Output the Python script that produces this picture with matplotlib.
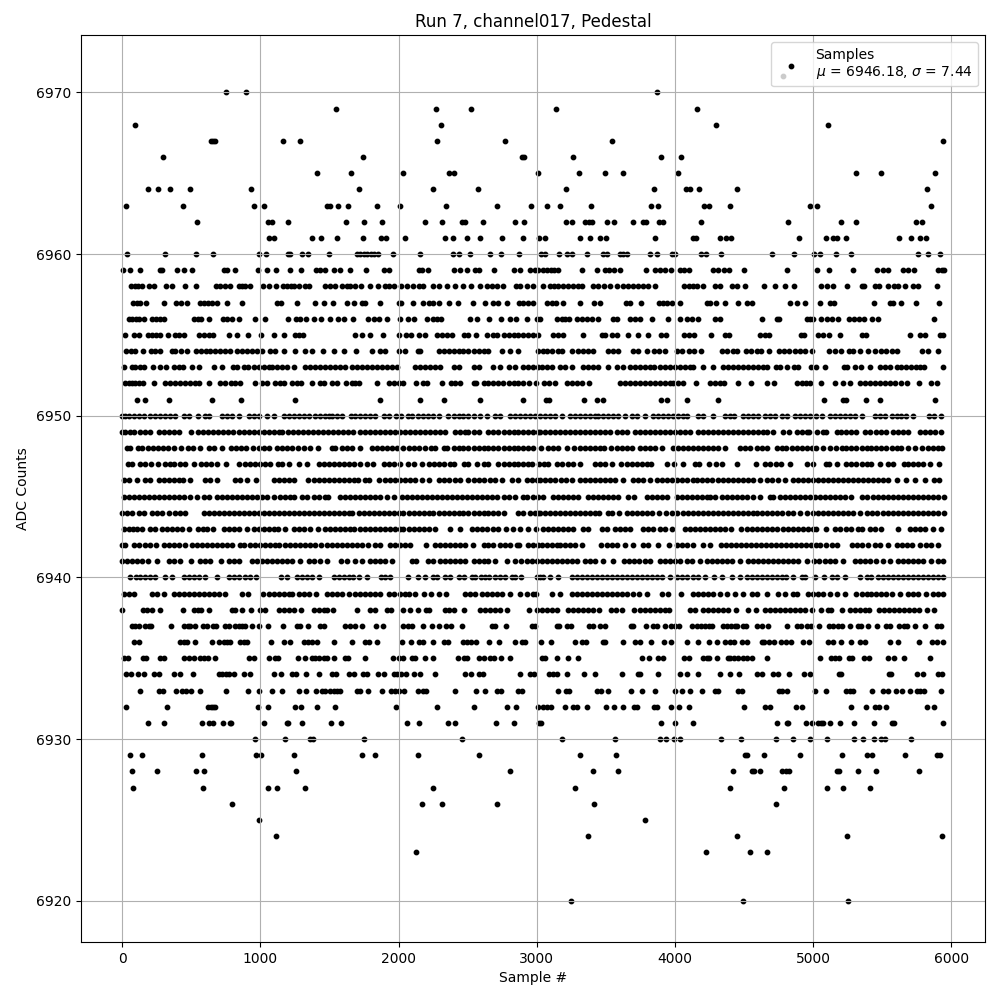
import matplotlib
matplotlib.use("Agg")
import matplotlib.pyplot as plt

s6971 = [4780]
s6970 = [750, 894, 3872]
s6969 = [1545, 2268, 2528, 3142, 4161]
s6968 = [92, 2304, 4299, 5108]
s6967 = [641, 655, 670, 1162, 1285, 2282, 2774, 3547, 5940]
s6966 = [294, 1740, 2897, 2911, 3265, 3901, 4046]
s6965 = [1407, 1653, 2036, 2362, 2405, 3012, 3309, 3491, 3622, 4024, 5311, 5492, 5882]
s6964 = [186, 258, 345, 489, 930, 1711, 2253, 2572, 3214, 3851, 4082, 4111, 4176, 4451, 5824]
s6963 = [27, 439, 952, 1024, 1482, 1506, 1559, 1632, 1841, 2008, 2340, 2709, 2962, 3077, 3171, 3395, 3829, 3880, 4210, 4248, 4400, 4978, 5029, 5853]
s6962 = [540, 1053, 1082, 1198, 1617, 1747, 1877, 2195, 2311, 2458, 2482, 2608, 2846, 2911, 3214, 3258, 3349, 3381, 3402, 3511, 3561, 3699, 3771, 3793, 3887, 3916, 4190, 4819, 5202, 5311, 5745, 5788]
s6961 = [1060, 1097, 1371, 1436, 1552, 1740, 1870, 1906, 2044, 2333, 2391, 2499, 2586, 2752, 2904, 3019, 3063, 3316, 3388, 3460, 3504, 3858, 4133, 4154, 4328, 4371, 4407, 4899, 5094, 5145, 5173, 5239, 5622, 5708, 5773, 5817]
s6960 = [34, 308, 535, 655, 988, 1039, 1198, 1217, 1299, 1342, 1494, 1699, 1723, 1747, 1769, 1798, 1820, 1849, 1957, 2159, 2391, 2441, 2514, 2665, 2738, 2875, 3031, 3060, 3164, 3222, 3253, 3366, 3482, 3511, 3605, 3627, 3651, 3822, 3872, 3981, 4000, 4190, 4226, 4335, 4704, 4863, 5007, 5050, 5166, 5275, 5759, 5831, 5918]
s6959 = [5, 55, 128, 277, 289, 398, 446, 504, 735, 759, 819, 981, 1046, 1111, 1212, 1292, 1400, 1434, 1470, 1530, 1574, 1646, 1762, 1892, 1928, 2145, 2169, 2210, 2398, 2448, 2492, 2555, 2579, 2694, 2839, 2880, 2952, 2988, 3012, 3043, 3072, 3101, 3125, 3156, 3330, 3438, 3494, 3525, 3559, 3600, 3793, 3858, 3892, 3928, 3969, 4036, 4065, 4104, 4277, 4308, 4357, 4390, 4501, 4812, 5029, 5116, 5289, 5463, 5506, 5542, 5650, 5687, 5730, 5906, 5930, 5945]
s6958 = [63, 96, 113, 142, 193, 229, 321, 361, 453, 533, 677, 711, 747, 778, 843, 868, 892, 923, 1017, 1060, 1113, 1164, 1193, 1222, 1246, 1277, 1321, 1354, 1470, 1506, 1542, 1591, 1627, 1651, 1687, 1728, 1791, 1848, 1899, 1928, 1964, 2015, 2061, 2104, 2145, 2174, 2253, 2290, 2350, 2412, 2463, 2528, 2586, 2639, 2675, 2711, 2759, 2851, 2880, 2926, 2976, 3048, 3096, 3125, 3157, 3193, 3229, 3265, 3301, 3325, 3410, 3446, 3487, 3530, 3578, 3627, 3663, 3699, 3735, 3771, 3807, 3855, 4068, 4104, 4133, 4161, 4205, 4289, 4325, 4410, 4451, 4506, 4644, 4723, 4798, 4863, 5060, 5097, 5140, 5246, 5350, 5369, 5448, 5477, 5542, 5583, 5615, 5665, 5723, 5760, 5897]
s6957 = [77, 108, 128, 176, 301, 388, 427, 470, 562, 590, 619, 651, 687, 757, 865, 1121, 1152, 1263, 1398, 1458, 1523, 1624, 1675, 1735, 1754, 1863, 2000, 2017, 2102, 2174, 2217, 2246, 2290, 2362, 2429, 2538, 2629, 2687, 2718, 2783, 2875, 2904, 2940, 2971, 3077, 3108, 3140, 3188, 3316, 3417, 3458, 3643, 3675, 3757, 3887, 3916, 3945, 3976, 4036, 4229, 4253, 4299, 4364, 4458, 4523, 4559, 4832, 4885, 4940, 5051, 5120, 5150, 5441, 5555, 5579, 5636, 5745, 5911]
s6956 = [48, 72, 104, 120, 157, 217, 248, 277, 306, 518, 547, 571, 631, 730, 759, 795, 843, 959, 1031, 1198, 1256, 1289, 1328, 1386, 1436, 1501, 1559, 1603, 1668, 1776, 1820, 1856, 1916, 2008, 2065, 2109, 2205, 2249, 2278, 2309, 2514, 2567, 2658, 2745, 2803, 2851, 2933, 3000, 3024, 3145, 3181, 3205, 3236, 3289, 3325, 3361, 3398, 3446, 3554, 3583, 3675, 3711, 3747, 3836, 3952, 4039, 4085, 4121, 4164, 4289, 4325, 4629, 4735, 4754, 4952, 4976, 5000, 5060, 5097, 5133, 5181, 5261, 5294, 5333, 5369, 5427, 5470, 5875]
s6955 = [19, 84, 120, 186, 217, 246, 277, 330, 386, 410, 451, 554, 590, 627, 658, 771, 831, 909, 1007, 1097, 1171, 1253, 1277, 1306, 1687, 1735, 1793, 1885, 2003, 2056, 2090, 2145, 2188, 2282, 2314, 2350, 2386, 2475, 2506, 2559, 2639, 2687, 2716, 2760, 2796, 2832, 2861, 2899, 2940, 2976, 3012, 3120, 3157, 3188, 3337, 3470, 3494, 3542, 3578, 3663, 3730, 3802, 3896, 3935, 4068, 4104, 4137, 4263, 4362, 4393, 4615, 4651, 4680, 4911, 4933, 5036, 5073, 5116, 5193, 5350, 5381, 5702, 5776, 5808, 5916, 5940]
s6954 = [31, 65, 96, 149, 212, 241, 277, 361, 386, 427, 470, 532, 568, 604, 639, 675, 711, 747, 784, 831, 867, 904, 940, 976, 1012, 1072, 1108, 1169, 1253, 1321, 1374, 1451, 1535, 1603, 1689, 1805, 1863, 1904, 2000, 2049, 2138, 2157, 2290, 2326, 2362, 2398, 2434, 2470, 2506, 2543, 2579, 2615, 2651, 2747, 2803, 2868, 3012, 3048, 3072, 3108, 3157, 3186, 3258, 3301, 3337, 3373, 3410, 3518, 3554, 3590, 3694, 3735, 3800, 3848, 3887, 3930, 4012, 4048, 4104, 4140, 4186, 4342, 4378, 4422, 4451, 4511, 4547, 4591, 4620, 4680, 4754, 4788, 4827, 4868, 4904, 4940, 4988, 5114, 5157, 5205, 5258, 5285, 5340, 5398, 5448, 5494, 5530, 5567, 5603, 5791, 5832, 5904]
s6953 = [12, 72, 96, 128, 157, 224, 277, 321, 373, 410, 441, 506, 554, 663, 725, 800, 831, 880, 911, 957, 993, 1029, 1060, 1085, 1121, 1157, 1193, 1241, 1326, 1362, 1398, 1434, 1470, 1506, 1542, 1579, 1615, 1663, 1699, 1735, 1771, 1807, 1844, 1880, 1916, 1952, 1988, 2121, 2157, 2193, 2229, 2265, 2297, 2398, 2434, 2543, 2579, 2687, 2731, 2796, 2844, 2904, 2940, 2976, 3012, 3036, 3072, 3113, 3169, 3205, 3253, 3337, 3373, 3410, 3446, 3518, 3578, 3622, 3675, 3711, 3747, 3783, 3819, 3851, 3892, 3928, 3964, 4000, 4036, 4072, 4108, 4133, 4205, 4277, 4350, 4386, 4422, 4458, 4494, 4530, 4566, 4603, 4639, 4663, 4730, 4759, 4812, 4860, 4887, 4981, 5020, 5087, 5222, 5246, 5301, 5343, 5410, 5482, 5518, 5554, 5603, 5639, 5675, 5711, 5747, 5771, 5805, 5940]
s6952 = [24, 48, 72, 96, 120, 152, 229, 313, 349, 386, 422, 458, 494, 530, 554, 627, 706, 747, 788, 819, 855, 964, 1012, 1048, 1109, 1145, 1174, 1229, 1265, 1294, 1371, 1434, 1458, 1518, 1554, 1617, 1663, 1687, 1711, 1841, 1928, 1964, 2000, 2036, 2126, 2176, 2205, 2318, 2379, 2410, 2446, 2547, 2562, 2615, 2651, 2687, 2723, 2755, 2796, 2832, 2868, 2904, 2945, 2995, 3053, 3092, 3133, 3217, 3253, 3289, 3325, 3376, 3603, 3639, 3675, 3711, 3747, 3783, 3819, 3855, 3892, 3928, 3964, 3988, 4024, 4060, 4152, 4253, 4289, 4325, 4354, 4455, 4552, 4667, 4718, 4885, 4916, 4947, 4976, 5060, 5159, 5217, 5265, 5338, 5374, 5410, 5446, 5482, 5518, 5554, 5590, 5639, 5682, 5767, 5856, 5899]
s6951 = [111, 164, 337, 648, 858, 1248, 1863, 2159, 2326, 2593, 2899, 3067, 3087, 3345, 3439, 3482, 3901, 3942, 4089, 4313, 5080, 5217, 5236, 5383, 5485, 5882]
s6950 = [2, 24, 48, 89, 120, 157, 200, 236, 272, 308, 345, 386, 450, 482, 547, 603, 627, 723, 759, 795, 843, 916, 952, 988, 1048, 1097, 1169, 1205, 1241, 1277, 1313, 1350, 1398, 1434, 1470, 1494, 1518, 1554, 1591, 1656, 1687, 1723, 1759, 1795, 1832, 1892, 1928, 1983, 2020, 2065, 2101, 2138, 2174, 2210, 2246, 2290, 2355, 2398, 2434, 2470, 2506, 2543, 2591, 2641, 2699, 2735, 2808, 2844, 2880, 2916, 2952, 2988, 3024, 3060, 3096, 3133, 3181, 3241, 3277, 3313, 3349, 3386, 3422, 3446, 3482, 3518, 3554, 3590, 3639, 3687, 3723, 3783, 3838, 3880, 3916, 3952, 3988, 4024, 4060, 4085, 4169, 4205, 4277, 4362, 4398, 4429, 4494, 4530, 4566, 4603, 4651, 4687, 4723, 4771, 4812, 4868, 4904, 4940, 4976, 5024, 5067, 5120, 5157, 5193, 5229, 5265, 5301, 5350, 5446, 5482, 5518, 5567, 5603, 5639, 5675, 5723, 5837, 5873, 5928]
s6949 = [0, 24, 60, 89, 132, 169, 205, 265, 301, 337, 373, 410, 496, 547, 583, 619, 655, 692, 728, 764, 800, 848, 884, 920, 957, 993, 1029, 1065, 1101, 1133, 1157, 1200, 1236, 1272, 1308, 1345, 1381, 1417, 1453, 1489, 1525, 1562, 1598, 1634, 1670, 1723, 1759, 1795, 1832, 1868, 1904, 1940, 1976, 2012, 2049, 2085, 2121, 2157, 2193, 2229, 2265, 2302, 2338, 2410, 2446, 2482, 2506, 2543, 2579, 2651, 2687, 2723, 2760, 2796, 2832, 2868, 2904, 2940, 2976, 3012, 3024, 3060, 3096, 3133, 3169, 3205, 3241, 3277, 3313, 3349, 3386, 3422, 3458, 3494, 3530, 3583, 3619, 3655, 3711, 3747, 3783, 3819, 3855, 3892, 3928, 3964, 4000, 4036, 4072, 4108, 4169, 4205, 4241, 4277, 4313, 4350, 4386, 4422, 4458, 4494, 4530, 4566, 4603, 4639, 4663, 4711, 4783, 4827, 4880, 4916, 4952, 4971, 5029, 5068, 5092, 5169, 5205, 5241, 5277, 5313, 5374, 5410, 5458, 5494, 5530, 5579, 5615, 5651, 5687, 5771, 5808, 5844, 5880, 5928]
s6948 = [36, 60, 113, 145, 186, 222, 258, 294, 330, 373, 424, 475, 511, 562, 629, 663, 723, 788, 824, 860, 896, 945, 993, 1029, 1060, 1121, 1157, 1193, 1229, 1270, 1313, 1362, 1415, 1518, 1542, 1591, 1627, 1663, 1723, 1807, 1844, 1880, 1916, 1952, 1988, 2036, 2073, 2109, 2145, 2193, 2234, 2265, 2326, 2350, 2398, 2434, 2470, 2506, 2543, 2579, 2615, 2651, 2687, 2723, 2760, 2796, 2832, 2868, 2904, 2940, 2976, 3029, 3084, 3120, 3157, 3217, 3272, 3313, 3349, 3386, 3422, 3458, 3487, 3537, 3578, 3615, 3651, 3687, 3747, 3783, 3819, 3855, 3904, 3988, 4024, 4060, 4096, 4133, 4169, 4205, 4241, 4277, 4313, 4362, 4470, 4506, 4542, 4591, 4627, 4663, 4735, 4771, 4807, 4844, 4880, 4916, 4952, 4988, 5024, 5073, 5120, 5164, 5210, 5241, 5277, 5313, 5350, 5386, 5422, 5458, 5494, 5530, 5567, 5603, 5639, 5687, 5735, 5788, 5832, 5868, 5904, 5935]
s6947 = [41, 75, 133, 169, 210, 258, 313, 349, 373, 422, 458, 518, 571, 607, 643, 687, 754, 846, 892, 928, 964, 1000, 1036, 1072, 1128, 1157, 1205, 1277, 1338, 1422, 1458, 1494, 1530, 1567, 1603, 1639, 1675, 1723, 1771, 1812, 1897, 1933, 1969, 2012, 2068, 2114, 2167, 2222, 2258, 2294, 2331, 2374, 2398, 2475, 2506, 2567, 2615, 2651, 2723, 2760, 2796, 2832, 2868, 2904, 2940, 2964, 3019, 3053, 3084, 3145, 3181, 3229, 3265, 3313, 3422, 3458, 3494, 3542, 3607, 3651, 3687, 3723, 3759, 3795, 3824, 3945, 3995, 4060, 4145, 4176, 4244, 4297, 4338, 4451, 4586, 4651, 4687, 4730, 4764, 4834, 4952, 5000, 5092, 5116, 5171, 5241, 5277, 5313, 5350, 5386, 5422, 5482, 5542, 5579, 5655, 5687, 5723, 5759, 5795, 5843, 5911]
s6946 = [12, 48, 108, 169, 205, 265, 301, 337, 373, 410, 441, 489, 603, 639, 687, 819, 855, 904, 971, 1097, 1133, 1169, 1205, 1241, 1345, 1386, 1422, 1458, 1494, 1530, 1567, 1603, 1639, 1675, 1704, 1759, 1783, 1856, 1904, 1940, 1976, 2012, 2049, 2085, 2121, 2169, 2217, 2290, 2326, 2362, 2410, 2446, 2506, 2543, 2579, 2615, 2663, 2699, 2747, 2820, 2868, 2928, 2964, 3000, 3024, 3060, 3096, 3133, 3174, 3212, 3253, 3313, 3349, 3386, 3422, 3458, 3494, 3530, 3566, 3627, 3699, 3735, 3771, 3819, 3867, 3904, 3940, 3976, 4012, 4048, 4085, 4133, 4157, 4193, 4229, 4265, 4313, 4350, 4386, 4422, 4458, 4494, 4530, 4566, 4615, 4668, 4699, 4747, 4795, 4855, 4892, 4928, 4964, 5000, 5036, 5073, 5109, 5145, 5181, 5217, 5253, 5289, 5325, 5362, 5398, 5434, 5470, 5506, 5542, 5603, 5675, 5735, 5808, 5873, 5911]
s6945 = [12, 48, 84, 120, 157, 193, 229, 265, 301, 337, 373, 410, 446, 494, 542, 590, 627, 687, 723, 759, 795, 831, 867, 904, 940, 976, 1012, 1048, 1097, 1145, 1181, 1217, 1246, 1301, 1338, 1386, 1422, 1470, 1487, 1579, 1615, 1651, 1687, 1723, 1759, 1795, 1832, 1868, 1916, 1964, 2024, 2061, 2097, 2133, 2169, 2205, 2241, 2278, 2314, 2350, 2386, 2422, 2458, 2494, 2530, 2567, 2603, 2639, 2675, 2716, 2760, 2796, 2844, 2904, 2933, 2976, 3012, 3048, 3120, 3157, 3193, 3229, 3265, 3301, 3373, 3410, 3446, 3482, 3518, 3554, 3590, 3663, 3704, 3795, 3831, 3867, 3904, 3940, 4012, 4048, 4085, 4121, 4157, 4193, 4229, 4253, 4289, 4338, 4374, 4410, 4446, 4482, 4518, 4566, 4615, 4687, 4711, 4759, 4795, 4832, 4868, 4904, 4940, 4976, 5012, 5048, 5085, 5121, 5157, 5193, 5229, 5277, 5350, 5386, 5434, 5470, 5506, 5542, 5579, 5615, 5651, 5687, 5723, 5759, 5795, 5832, 5868, 5904, 5946]
s6944 = [0, 36, 72, 120, 157, 217, 253, 289, 337, 386, 422, 458, 590, 627, 663, 699, 735, 771, 807, 843, 879, 916, 952, 988, 1024, 1060, 1096, 1133, 1169, 1205, 1241, 1277, 1313, 1350, 1386, 1422, 1458, 1494, 1530, 1567, 1603, 1639, 1663, 1711, 1747, 1783, 1820, 1856, 1892, 1928, 1966, 2000, 2036, 2073, 2109, 2145, 2181, 2217, 2253, 2290, 2326, 2362, 2398, 2434, 2470, 2506, 2543, 2579, 2615, 2651, 2687, 2723, 2760, 2868, 2904, 2952, 2988, 3012, 3024, 3060, 3096, 3133, 3169, 3205, 3241, 3277, 3313, 3349, 3386, 3422, 3453, 3518, 3542, 3598, 3651, 3687, 3723, 3759, 3795, 3831, 3887, 3935, 3976, 4012, 4060, 4096, 4133, 4169, 4205, 4241, 4277, 4313, 4350, 4386, 4422, 4458, 4494, 4530, 4566, 4591, 4627, 4663, 4699, 4735, 4771, 4820, 4856, 4904, 4954, 5000, 5036, 5073, 5109, 5145, 5181, 5217, 5253, 5289, 5338, 5391, 5427, 5463, 5506, 5542, 5579, 5615, 5651, 5687, 5723, 5759, 5795, 5832, 5868, 5904, 5946]
s6943 = [17, 48, 80, 108, 145, 200, 241, 289, 325, 361, 398, 434, 482, 547, 583, 615, 658, 735, 771, 807, 843, 901, 952, 988, 1024, 1060, 1097, 1125, 1178, 1241, 1277, 1313, 1362, 1415, 1470, 1506, 1542, 1579, 1615, 1651, 1680, 1723, 1759, 1795, 1832, 1868, 1904, 1940, 1976, 2012, 2036, 2073, 2109, 2145, 2181, 2217, 2265, 2374, 2446, 2530, 2567, 2603, 2639, 2687, 2723, 2775, 2825, 2882, 2940, 2995, 3048, 3084, 3120, 3157, 3193, 3229, 3265, 3337, 3373, 3470, 3511, 3566, 3603, 3639, 3675, 3771, 3807, 3843, 3892, 3928, 3976, 4072, 4108, 4145, 4181, 4217, 4253, 4289, 4325, 4362, 4405, 4475, 4518, 4554, 4591, 4627, 4663, 4699, 4735, 4783, 4820, 4856, 4892, 4928, 4964, 5000, 5024, 5096, 5157, 5193, 5241, 5277, 5325, 5350, 5410, 5446, 5494, 5615, 5699, 5735, 5771, 5808, 5868, 5926]
s6942 = [0, 24, 89, 120, 169, 205, 248, 301, 337, 373, 410, 458, 506, 542, 578, 614, 651, 687, 723, 759, 795, 851, 884, 928, 964, 1000, 1036, 1072, 1108, 1133, 1181, 1217, 1253, 1289, 1326, 1362, 1398, 1439, 1482, 1518, 1554, 1591, 1627, 1663, 1699, 1735, 1776, 1832, 1863, 1935, 1971, 2008, 2049, 2085, 2198, 2265, 2302, 2338, 2374, 2410, 2446, 2482, 2538, 2615, 2651, 2687, 2735, 2772, 2803, 2856, 2875, 2940, 2976, 3012, 3036, 3072, 3108, 3145, 3169, 3205, 3241, 3277, 3325, 3463, 3506, 3542, 3578, 3639, 3699, 3771, 3807, 3880, 3959, 4012, 4048, 4085, 4133, 4205, 4253, 4330, 4366, 4403, 4439, 4475, 4511, 4547, 4583, 4620, 4656, 4692, 4728, 4764, 4801, 4837, 4873, 4909, 4945, 4981, 5017, 5053, 5090, 5133, 5169, 5282, 5318, 5354, 5398, 5448, 5487, 5542, 5603, 5646, 5682, 5718, 5776, 5820, 5856, 5904]
s6941 = [0, 36, 72, 108, 145, 186, 251, 337, 373, 422, 499, 562, 603, 639, 718, 776, 812, 848, 940, 976, 1012, 1048, 1085, 1121, 1157, 1193, 1229, 1289, 1350, 1386, 1434, 1482, 1586, 1627, 1682, 1738, 1795, 1832, 1868, 1904, 1952, 2097, 2128, 2210, 2253, 2302, 2338, 2374, 2410, 2446, 2482, 2543, 2579, 2615, 2651, 2699, 2783, 2844, 2885, 2928, 2964, 3000, 3036, 3072, 3108, 3145, 3181, 3217, 3253, 3289, 3349, 3386, 3422, 3482, 3549, 3631, 3668, 3704, 3740, 3783, 3819, 3892, 3928, 3964, 4000, 4036, 4085, 4121, 4181, 4229, 4265, 4301, 4338, 4374, 4410, 4470, 4530, 4566, 4603, 4639, 4675, 4711, 4747, 4783, 4820, 4856, 4892, 4952, 5007, 5044, 5085, 5121, 5157, 5217, 5301, 5338, 5374, 5410, 5458, 5506, 5554, 5615, 5651, 5687, 5723, 5759, 5795, 5856, 5904, 5940]
s6940 = [60, 104, 133, 169, 205, 241, 313, 361, 446, 482, 518, 554, 603, 684, 771, 807, 843, 892, 928, 969, 1147, 1193, 1265, 1301, 1338, 1374, 1422, 1535, 1571, 1607, 1644, 1668, 1711, 1769, 1873, 1904, 1940, 2068, 2138, 2193, 2246, 2278, 2333, 2374, 2441, 2475, 2530, 2555, 2596, 2627, 2658, 2699, 2735, 2772, 2820, 2844, 2885, 3000, 3024, 3048, 3099, 3157, 3253, 3289, 3325, 3361, 3398, 3434, 3470, 3506, 3542, 3578, 3615, 3651, 3687, 3723, 3759, 3795, 3831, 3867, 3904, 3964, 4012, 4048, 4085, 4133, 4169, 4217, 4285, 4342, 4410, 4470, 4518, 4554, 4591, 4627, 4663, 4699, 4735, 4771, 4807, 4856, 4916, 4940, 5015, 5080, 5133, 5169, 5229, 5338, 5386, 5422, 5470, 5506, 5542, 5579, 5615, 5651, 5687, 5723, 5759, 5795, 5832, 5868, 5904, 5940]
s6939 = [17, 48, 84, 217, 253, 301, 373, 410, 446, 482, 518, 554, 590, 627, 663, 699, 747, 867, 908, 1017, 1065, 1097, 1133, 1169, 1205, 1229, 1277, 1313, 1350, 1405, 1482, 1518, 1554, 1591, 1639, 1687, 1723, 1759, 1795, 1832, 1868, 1928, 1964, 2012, 2049, 2073, 2116, 2181, 2234, 2290, 2347, 2482, 2518, 2555, 2603, 2639, 2675, 2711, 2747, 2805, 2880, 2928, 2976, 2995, 3113, 3169, 3253, 3289, 3325, 3361, 3398, 3434, 3470, 3506, 3542, 3578, 3615, 3651, 3694, 3742, 3795, 3904, 3952, 4043, 4133, 4169, 4205, 4241, 4277, 4325, 4378, 4434, 4494, 4554, 4591, 4663, 4747, 4795, 4856, 4885, 4964, 5000, 5036, 5073, 5121, 5169, 5232, 5313, 5350, 5386, 5422, 5458, 5494, 5530, 5567, 5627, 5687, 5723, 5759, 5820, 5868, 5904, 5940]
s6938 = [0, 149, 181, 217, 277, 439, 518, 547, 571, 627, 795, 819, 865, 930, 1000, 1036, 1138, 1169, 1205, 1241, 1292, 1386, 1422, 1458, 1482, 1523, 1697, 1795, 1832, 1916, 1945, 2036, 2082, 2138, 2198, 2224, 2333, 2362, 2405, 2477, 2591, 2627, 2663, 2699, 2735, 2783, 2947, 3005, 3036, 3072, 3108, 3145, 3229, 3265, 3301, 3337, 3373, 3410, 3453, 3537, 3574, 3615, 3706, 3747, 3783, 3819, 3855, 3892, 3928, 3959, 4109, 4145, 4205, 4241, 4277, 4313, 4350, 4386, 4441, 4530, 4586, 4651, 4687, 4723, 4759, 4795, 4832, 4868, 4904, 4940, 4988, 5058, 5109, 5128, 5210, 5265, 5301, 5338, 5374, 5405, 5477, 5513, 5549, 5586, 5622, 5658, 5694, 5730, 5766, 5824, 5875]
s6937 = [72, 96, 120, 169, 193, 210, 352, 446, 477, 494, 525, 583, 614, 658, 682, 747, 771, 819, 843, 867, 892, 940, 988, 1053, 1161, 1265, 1285, 1342, 1429, 1463, 1610, 1646, 1682, 1733, 1834, 1885, 2029, 2065, 2097, 2174, 2239, 2290, 2340, 2383, 2456, 2675, 2699, 2781, 2964, 2988, 3145, 3159, 3217, 3246, 3381, 3410, 3460, 3496, 3684, 3699, 3793, 3843, 3872, 3930, 3973, 4002, 4029, 4125, 4157, 4186, 4217, 4246, 4270, 4349, 4378, 4407, 4431, 4451, 4494, 4513, 4595, 4631, 4675, 4812, 4884, 4915, 4957, 4981, 5043, 5116, 5145, 5181, 5212, 5267, 5325, 5344, 5400, 5463, 5528, 5559, 5623, 5657, 5681, 5739, 5812, 5896, 5925]
s6936 = [89, 120, 422, 446, 470, 525, 648, 699, 735, 759, 778, 855, 880, 904, 1075, 1174, 1212, 1313, 1342, 1371, 1407, 1530, 1660, 1754, 1788, 1846, 2022, 2087, 2145, 2174, 2246, 2326, 2359, 2463, 2499, 2523, 2562, 2653, 2730, 2846, 2892, 2916, 3034, 3106, 3280, 3330, 3357, 3477, 3494, 3627, 3713, 3749, 3829, 3923, 3973, 4089, 4168, 4248, 4306, 4364, 4400, 4429, 4487, 4518, 4631, 4646, 4682, 4718, 4766, 4802, 4843, 4928, 4971, 5108, 5145, 5202, 5275, 5338, 5373, 5556, 5614, 5766, 5860, 5896, 5939]
s6935 = [12, 41, 149, 173, 277, 301, 446, 482, 518, 566, 595, 619, 670, 916, 952, 1060, 1108, 1128, 1270, 1321, 1374, 1398, 1427, 1458, 1482, 1530, 1610, 1634, 1761, 1957, 2000, 2032, 2097, 2121, 2188, 2253, 2427, 2475, 2499, 2579, 2615, 2663, 2692, 2743, 2810, 3041, 3060, 3149, 3229, 3301, 3764, 3814, 3880, 3916, 4068, 4104, 4205, 4229, 4248, 4306, 4381, 4398, 4427, 4458, 4489, 4518, 4559, 4667, 5051, 5130, 5159, 5190, 5260, 5284, 5369, 5405, 5545, 5588, 5660, 5848]
s6934 = [27, 65, 113, 157, 229, 265, 373, 417, 511, 699, 723, 752, 776, 807, 880, 923, 1097, 1147, 1231, 1256, 1328, 1422, 1516, 1550, 1639, 1675, 1740, 1771, 1848, 1892, 1964, 1988, 2017, 2056, 2109, 2152, 2261, 2484, 2528, 2583, 2610, 2882, 2952, 2981, 3089, 3120, 3145, 3222, 3345, 3425, 3620, 3735, 3747, 3880, 4039, 4089, 4164, 4328, 4400, 4465, 4595, 4631, 4711, 4747, 4827, 4935, 4978, 5188, 5205, 5549, 5566, 5752, 5795, 5906, 5935]
s6933 = [133, 265, 294, 388, 431, 465, 496, 562, 749, 909, 993, 1082, 1159, 1277, 1328, 1400, 1446, 1470, 1506, 1530, 1554, 1579, 1699, 1723, 1776, 1877, 1947, 1971, 2000, 2041, 2138, 2174, 2198, 2412, 2564, 2629, 2716, 2740, 2861, 2892, 3157, 3212, 3236, 3439, 3463, 3518, 3684, 3764, 3858, 4002, 4053, 4111, 4195, 4291, 4311, 4458, 4482, 4754, 4778, 4812, 5014, 5094, 5241, 5265, 5289, 5427, 5506, 5542, 5602, 5643, 5701, 5752, 5776, 5800, 5926]
s6932 = [27, 323, 619, 640, 660, 675, 981, 1053, 1248, 1292, 1407, 1537, 1979, 2275, 2543, 2788, 2853, 3012, 3048, 3072, 3106, 3207, 3265, 3289, 3366, 3504, 3561, 3626, 3706, 3723, 3850, 3867, 3974, 4032, 4104, 4501, 4653, 4690, 4878, 4922, 5275, 5383, 5448, 5477, 5528, 5824, 5875]
s6931 = [186, 301, 576, 626, 655, 728, 778, 790, 1024, 1190, 1198, 1299, 1509, 1581, 2058, 2145, 2355, 2412, 2702, 2839, 3020, 3034, 3901, 4002, 4132, 4740, 4810, 4819, 4950, 4993, 5036, 5055, 5074, 5123, 5195, 5296, 5441, 5572, 5584, 5940]
s6930 = [959, 1176, 1357, 1378, 1747, 2456, 3186, 3569, 3894, 3937, 3995, 4038, 4335, 4480, 4733, 4855, 4978, 5101, 5296, 5361, 5441, 5492, 5520, 5708]
s6929 = [55, 142, 576, 966, 1002, 1241, 1733, 1827, 2138, 2579, 3316, 3576, 4508, 4523, 4646, 4906, 5210, 5390, 5426, 5665, 5896, 5918]
s6928 = [70, 251, 533, 590, 1256, 2803, 3410, 3590, 4422, 4559, 4573, 4617, 4776, 4805, 4827, 5173, 5188, 5325, 5455, 5766]
s6927 = [77, 583, 1053, 1118, 1321, 2246, 3280, 4400, 4790, 5101, 5217, 5412]
s6926 = [793, 2167, 2318, 2709, 3417, 4733]
s6925 = [988, 3786]
s6924 = [1111, 3373, 4451, 5246, 5933]
s6923 = [2130, 4227, 4545, 4668]
s6920 = [3251, 4494, 5253]

levels = {6971: s6971, 6970: s6970, 6969: s6969, 6968: s6968, 6967: s6967, 6966: s6966,
          6965: s6965, 6964: s6964, 6963: s6963, 6962: s6962, 6961: s6961, 6960: s6960,
          6959: s6959, 6958: s6958, 6957: s6957, 6956: s6956, 6955: s6955, 6954: s6954,
          6953: s6953, 6952: s6952, 6951: s6951, 6950: s6950, 6949: s6949, 6948: s6948,
          6947: s6947, 6946: s6946, 6945: s6945, 6944: s6944, 6943: s6943, 6942: s6942,
          6941: s6941, 6940: s6940, 6939: s6939, 6938: s6938, 6937: s6937, 6936: s6936,
          6935: s6935, 6934: s6934, 6933: s6933, 6932: s6932, 6931: s6931, 6930: s6930,
          6929: s6929, 6928: s6928, 6927: s6927, 6926: s6926, 6925: s6925, 6924: s6924,
          6923: s6923, 6920: s6920}

sample_index = []
adc_counts = []
for level, samples in levels.items():
    sample_index.extend(samples)
    adc_counts.extend([level] * len(samples))

fig, ax = plt.subplots(figsize=(10, 10), dpi=100)
ax.scatter(sample_index, adc_counts, s=10, color="black",
           label="Samples\n$\\mu$ = 6946.18, $\\sigma$ = 7.44")
ax.set_title("Run 7, channel017, Pedestal")
ax.set_xlabel("Sample #")
ax.set_ylabel("ADC Counts")
ax.grid(True)
ax.legend(loc="upper right")
fig.subplots_adjust(left=0.081, right=0.985, top=0.965, bottom=0.058)
fig.savefig("out.png", dpi=100)
